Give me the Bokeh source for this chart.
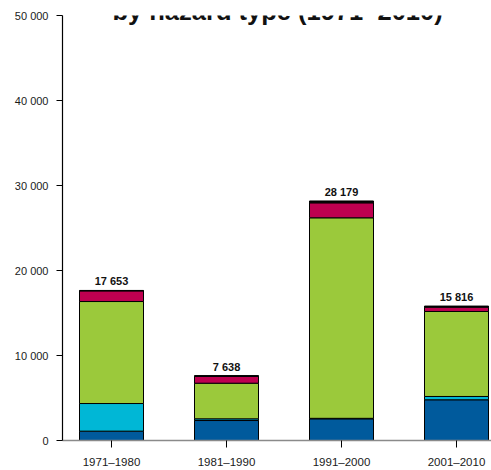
from bokeh.plotting import figure
from bokeh.models import ColumnDataSource, Range1d, FixedTicker, Label
from bokeh.core.properties import value
from bokeh.embed import file_html
from bokeh.resources import INLINE

# ---- data ----
decades = ["1971–1980", "1981–1990", "1991–2000", "2001–2010"]
blue_vals = [1100, 2350, 2550, 4790]
cyan_vals = [3250, 200, 60, 390]
green_vals = [12000, 4190, 23590, 10000]
crimson_vals = [1250, 790, 1760, 510]
black_vals = [53, 108, 219, 126]
totals = [17653, 7638, 28179, 15816]
total_labels = ["17 653", "7 638", "28 179", "15 816"]
y_ticks = [0, 10000, 20000, 30000, 40000, 50000]
y_tick_labels = ["0", "10 000", "20 000", "30 000", "40 000", "50 000"]
title_text = "by hazard type (1971–2010)"

series = ["blue", "cyan", "green", "crimson", "black"]
colors = ["#005a9c", "#00b7d6", "#9bc93b", "#be0050", "#000000"]

positions = [i + 1 for i in range(len(decades))]

FONT = "Liberation Sans"
W, H = 491, 470
LEFT, TOP, BOTTOM = 62, 15, 30
frame_h = H - TOP - BOTTOM
x0, x1 = 0.5739, 4.3043
y0, y1 = 0, 50000

src = ColumnDataSource(dict(
    x=positions,
    blue=blue_vals, cyan=cyan_vals, green=green_vals,
    crimson=crimson_vals, black=black_vals,
))

p = figure(width=W, height=H, x_range=Range1d(x0, x1), y_range=Range1d(y0, y1),
           output_backend="svg", toolbar_location=None,
           min_border_left=LEFT, min_border_right=0,
           min_border_top=TOP, min_border_bottom=BOTTOM)
p.outline_line_color = None
p.xgrid.visible = False
p.ygrid.visible = False
p.background_fill_color = "white"
p.border_fill_color = "white"

p.vbar_stack(series, x="x", width=0.5565, source=src, color=colors,
             line_color="black", line_width=1)

p.text(x=positions, y=totals, text=total_labels, text_align="center",
       text_baseline="alphabetic", y_offset=-9, text_font=value(FONT),
       text_font_style="bold", text_font_size="11px", text_color="#111111")

# y axis
p.yaxis.ticker = FixedTicker(ticks=y_ticks)
p.yaxis.major_label_overrides = {t: l for t, l in zip(y_ticks, y_tick_labels)}
p.yaxis.minor_tick_line_color = None
p.yaxis.major_tick_in = 0
p.yaxis.major_tick_out = 6
p.yaxis.major_label_standoff = 8
p.yaxis.axis_line_color = "black"
p.yaxis.axis_line_width = 1.2
p.yaxis.major_tick_line_color = "black"
p.yaxis.major_label_text_font = FONT
p.yaxis.major_label_text_font_size = "11px"
p.yaxis.major_label_text_color = "#1a1a1a"

# x axis
p.xaxis.ticker = FixedTicker(ticks=positions)
p.xaxis.major_label_overrides = {t: d for t, d in zip(positions, decades)}
p.xaxis.minor_tick_line_color = None
p.xaxis.major_tick_in = 0
p.xaxis.major_tick_out = 7
p.xaxis.major_label_standoff = 8
p.xaxis.axis_line_color = "#8a8a8a"
p.xaxis.axis_line_width = 1.5
p.xaxis.major_tick_line_color = "black"
p.xaxis.major_label_text_font = FONT
p.xaxis.major_label_text_font_size = "11.5px"
p.xaxis.major_label_text_color = "#1a1a1a"

# title line, cropped at the top edge as in the reference
per_px = (y1 - y0) / frame_h
title = Label(x=(x0 + x1) / 2 + 0.005, y=y1 + 5 * per_px, text=title_text,
              text_align="center", text_baseline="alphabetic",
              text_font=FONT, text_font_style="bold", text_font_size="25.5px",
              text_color="#111111")
p.add_layout(title)

open("out.html", "w").write(file_html(p, INLINE))
